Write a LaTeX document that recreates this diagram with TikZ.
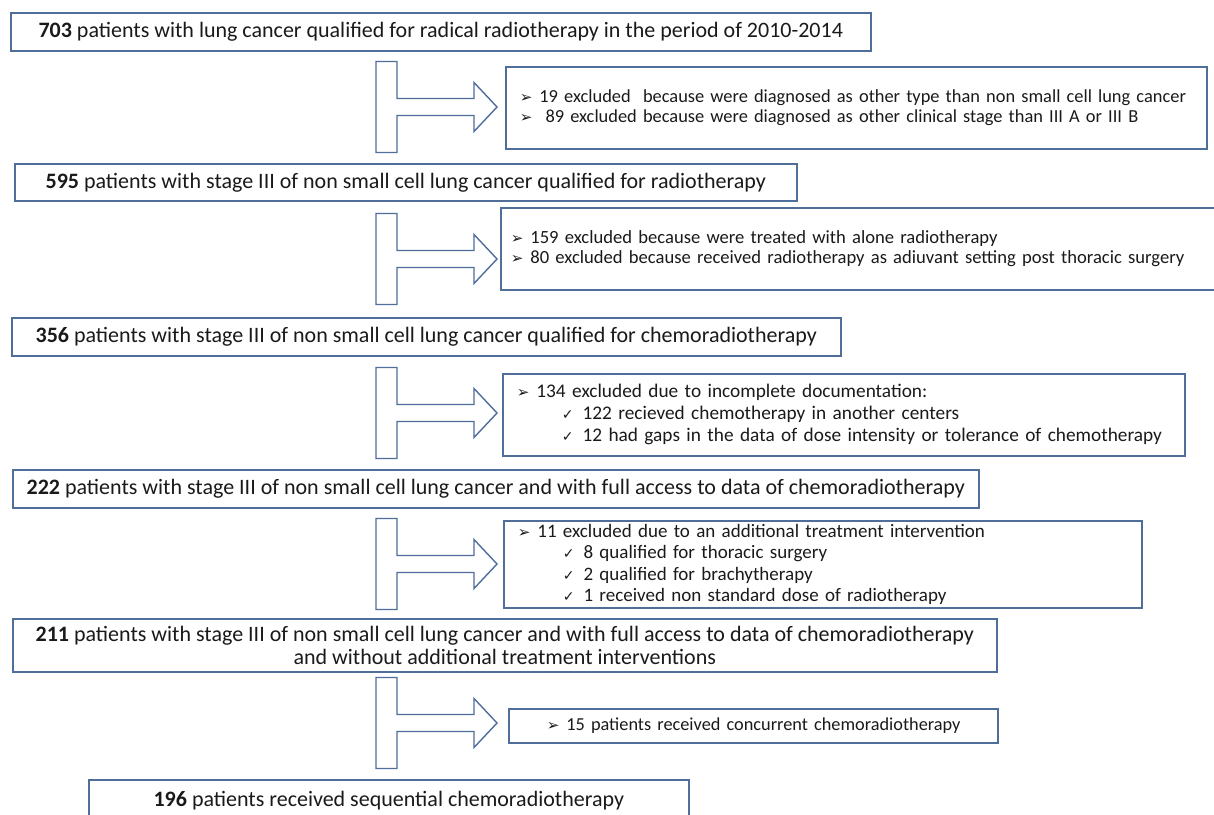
\documentclass[tikz,border=0pt]{standalone}
\usepackage{fontspec}
\setmainfont{Carlito}
\newfontfamily\symfont{DejaVu Sans}
\usetikzlibrary{positioning}
\definecolor{framblue}{HTML}{4F6E9A}
\definecolor{inkgrey}{HTML}{1A1A1A}
\newcommand{\exarr}{{\symfont\fontsize{15}{15}\selectfont ➢}\hspace{7pt}}
\newcommand{\exchk}{\hspace*{45pt}{\symfont\fontsize{14}{14}\selectfont ✓}\hspace{9pt}}

\begin{document}
\begin{tikzpicture}[x=1pt,y=-1pt,
        cohort/.style={draw=framblue,line width=1.6pt,anchor=north west,inner sep=0pt,
          align=center,text=inkgrey,font=\fontsize{22}{23.5}\selectfont},
        excl/.style={draw=framblue,line width=1.6pt,anchor=north west,inner xsep=14pt,inner ysep=0pt,
          align=left,text=inkgrey,font=\fontsize{19}{21.5}\selectfont},
        tarrow/.style={draw=framblue,line width=1.4pt,fill=white,line join=miter}
      ]
        \clip (0,0) rectangle (1214,814);
        \fill[white] (0,0) rectangle (1214,814);
        \node[cohort,minimum width=860pt,minimum height=38pt] (start) at (10,12)
          {\textbf{703} patients with lung cancer qualified for radical radiotherapy in the period of 2010-2014};
        \node[cohort,minimum width=782pt,minimum height=37pt] (stageiii) at (14,163)
          {\textbf{595} patients with stage III of non small cell lung cancer qualified for radiotherapy};
        \node[cohort,minimum width=829pt,minimum height=38pt] (crt) at (11,317)
          {\textbf{356} patients with stage III of non small cell lung cancer qualified for chemoradiotherapy};
        \node[cohort,minimum width=966pt,minimum height=38pt] (fulldata) at (12,469)
          {\textbf{222} patients with stage III of non small cell lung cancer and with full access to data of chemoradiotherapy};
        \node[cohort,minimum width=984pt,minimum height=53pt] (noint) at (12,618)
          {\textbf{211} patients with stage III of non small cell lung cancer and with full access to data of chemoradiotherapy\\
           and without additional treatment interventions};
        \node[cohort,minimum width=600pt,minimum height=42pt] (seqcrt) at (88,779)
          {\textbf{196} patients received sequential chemoradiotherapy};
        \node[excl,text width=673pt,minimum height=82pt,font=\fontsize{18.4}{20.5}\selectfont] (ex1) at (505,66)
          {\mbox{\exarr 19 excluded\ \ because were diagnosed as other type than non small cell lung cancer}\\
           \mbox{\exarr\ 89 excluded because were diagnosed as other clinical stage than III A or III B}};
        \node[excl,text width=702pt,minimum height=82pt,inner xsep=10pt,font=\fontsize{18.6}{20.5}\selectfont] (ex2) at (500,207)
          {\mbox{\exarr 159 excluded because were treated with alone radiotherapy}\\
           \mbox{\exarr 80 excluded because received radiotherapy as adiuvant setting post thoracic surgery}};
        \node[excl,text width=654pt,minimum height=82pt,font=\fontsize{19.3}{22}\selectfont] (ex3) at (502,373)
          {\exarr 134 excluded due to incomplete documentation:\\
           \exchk 122 recieved chemotherapy in another centers\\
           \mbox{\exchk 12 had gaps in the data of dose intensity or tolerance of chemotherapy}};
        \node[excl,text width=610pt,minimum height=87pt] (ex4) at (503,520)
          {\exarr 11 excluded due to an additional treatment intervention\\
           \exchk 8 qualified for thoracic surgery\\
           \exchk 2 qualified for brachytherapy\\
           \exchk 1 received non standard dose of radiotherapy};
        \node[excl,text width=453pt,minimum height=34pt,inner xsep=18pt,font=\fontsize{18.3}{20}\selectfont] (ex5) at (508,708)
          {\mbox{\hspace*{20pt}\exarr 15 patients received concurrent chemoradiotherapy}};
        \foreach \yc in {107,259,413,564,723}
          \draw[tarrow] (376,\yc-45.5) -- (397,\yc-45.5) -- (397,\yc-8.5) -- (474,\yc-8.5)
            -- (474,\yc-24.5) -- (497,\yc) -- (474,\yc+24.5) -- (474,\yc+8.5)
            -- (397,\yc+8.5) -- (397,\yc+45.5) -- (376,\yc+45.5) -- cycle;
      \end{tikzpicture}
\end{document}
